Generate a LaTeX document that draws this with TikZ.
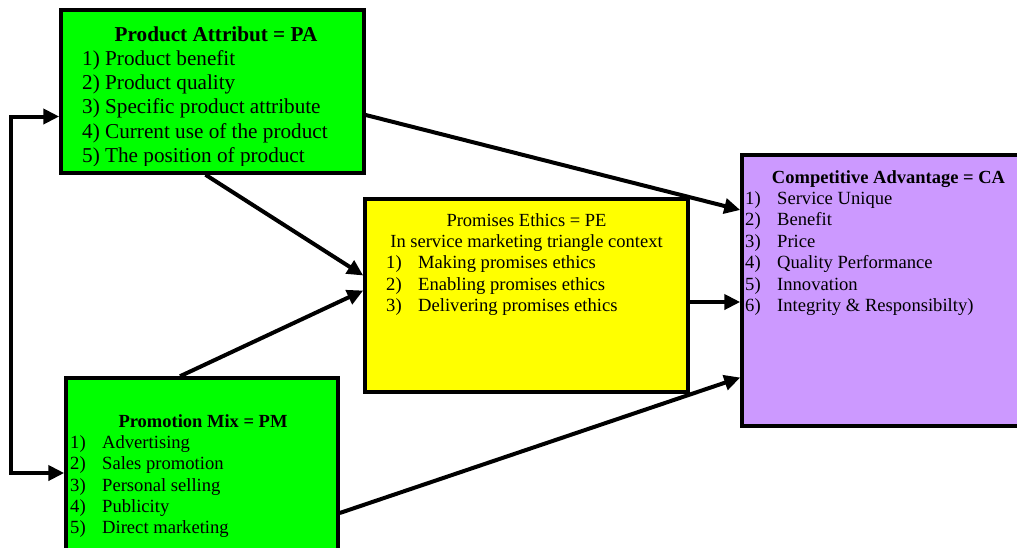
\documentclass[tikz,border=0pt]{standalone}
\usepackage{fontspec}
\setmainfont{Liberation Serif}
\usetikzlibrary{arrows.meta}

\definecolor{attrgreen}{RGB}{0,255,0}
\definecolor{ethyellow}{RGB}{255,255,0}
\definecolor{advpurple}{RGB}{204,153,255}
\newcommand{\numbox}[1]{\makebox[32pt][l]{#1}}

\begin{document}
\begin{tikzpicture}[
    x=1pt, y=-1pt,
    box/.style={draw, line width=3.5pt, inner sep=0pt},
    arrow/.style={-{Triangle[length=16pt, width=15pt]}, line width=4pt},
    title/.style={anchor=base, inner sep=0pt, font=\fontsize{18.5}{21}\selectfont\bfseries},
    item/.style={anchor=base west, inner sep=0pt, font=\fontsize{18.6}{21}\selectfont},
    bigtitle/.style={title, font=\fontsize{21.2}{24}\selectfont\bfseries},
    bigitem/.style={item, font=\fontsize{21.2}{24}\selectfont}
  ]

  \useasboundingbox (0,0) rectangle (1017,547);
  \clip (0,0) rectangle (1017,547);

  % Boxes
  \node[box, fill=attrgreen, minimum width=303pt, minimum height=163pt] (PA) at (212.5,91.5) {};
  \node[box, fill=ethyellow, minimum width=323pt, minimum height=193pt] (PE) at (526.5,295.5) {};
  \node[box, fill=advpurple, minimum width=298pt, minimum height=271pt] (CA) at (891,290.5) {};
  \node[box, fill=attrgreen, minimum width=272pt, minimum height=190pt] (PM) at (202,473) {};

  % Product attribute text - last line cut by the box
  \begin{scope}
    \clip (PA.north west) rectangle ([yshift=9pt]PA.south east);
    \node[bigtitle] (pa0) at (216,41) {Product Attribut = PA};
    \node[bigitem] (pa1) at (82,65) {1) Product benefit};
    \node[bigitem] (pa2) at (82,89.5) {2) Product quality};
    \node[bigitem] (pa3) at (82,113.5) {3) Specific product attribute};
    \node[bigitem] (pa4) at (82,138) {4) Current use of the product};
    \node[bigitem] (pa5) at (82,162) {5) The position of product};
  \end{scope}

  % Promises ethics text
  \node[title, font=\fontsize{18.5}{21}\selectfont] (pe0) at (526.5,226) {Promises Ethics = PE};
  \node[title, font=\fontsize{18.5}{21}\selectfont] (pe00) at (526.5,247) {In service marketing triangle context};
  \node[item] (pe1) at (386,268.5) {\numbox{1)}Making promises ethics};
  \node[item] (pe2) at (386,290) {\numbox{2)}Enabling promises ethics};
  \node[item] (pe3) at (386,311.5) {\numbox{3)}Delivering promises ethics};

  % Competitive advantage text
  \node[title] (ca0) at (888.5,183.5) {Competitive Advantage = CA};
  \node[item] (ca1) at (745,204) {\numbox{1)}Service Unique};
  \node[item] (ca2) at (745,225.5) {\numbox{2)}Benefit};
  \node[item] (ca3) at (745,247) {\numbox{3)}Price};
  \node[item] (ca4) at (745,268.5) {\numbox{4)}Quality Performance};
  \node[item] (ca5) at (745,290) {\numbox{5)}Innovation};
  \node[item] (ca6) at (745,311.5) {\numbox{6)}Integrity \& Responsibilty)};

  % Promotion mix text
  \node[title] (pm0) at (203,427) {Promotion Mix = PM};
  \node[item] (pm1) at (70,448) {\numbox{1)}Advertising};
  \node[item] (pm2) at (70,469.5) {\numbox{2)}Sales promotion};
  \node[item] (pm3) at (70,491) {\numbox{3)}Personal selling};
  \node[item] (pm4) at (70,512) {\numbox{4)}Publicity};
  \node[item] (pm5) at (70,533.5) {\numbox{5)}Direct marketing};

  % Arrows
  \draw[arrow] ([yshift=-23.5pt]PA.east) -- ([yshift=80.5pt]CA.west);
  \draw[arrow] ([xshift=-7pt]PA.south) -- ([yshift=20pt]PE.west);
  \draw[arrow] ([xshift=-22pt]PM.north) -- ([yshift=5pt]PE.west);
  \draw[arrow] ([yshift=-6.5pt]PE.east) -- ([yshift=-6.5pt]PE.east -| CA.west);
  \draw[arrow] ([yshift=-40pt]PM.east) -- ([yshift=-87pt]CA.west);

  % Link between the two inputs
  \draw[arrow, {Triangle[length=16pt, width=15pt]}-{Triangle[length=16pt, width=15pt]}]
    ([yshift=-25pt]PA.west) -- ++(-48,0) |- (PM.west);

\end{tikzpicture}
\end{document}
